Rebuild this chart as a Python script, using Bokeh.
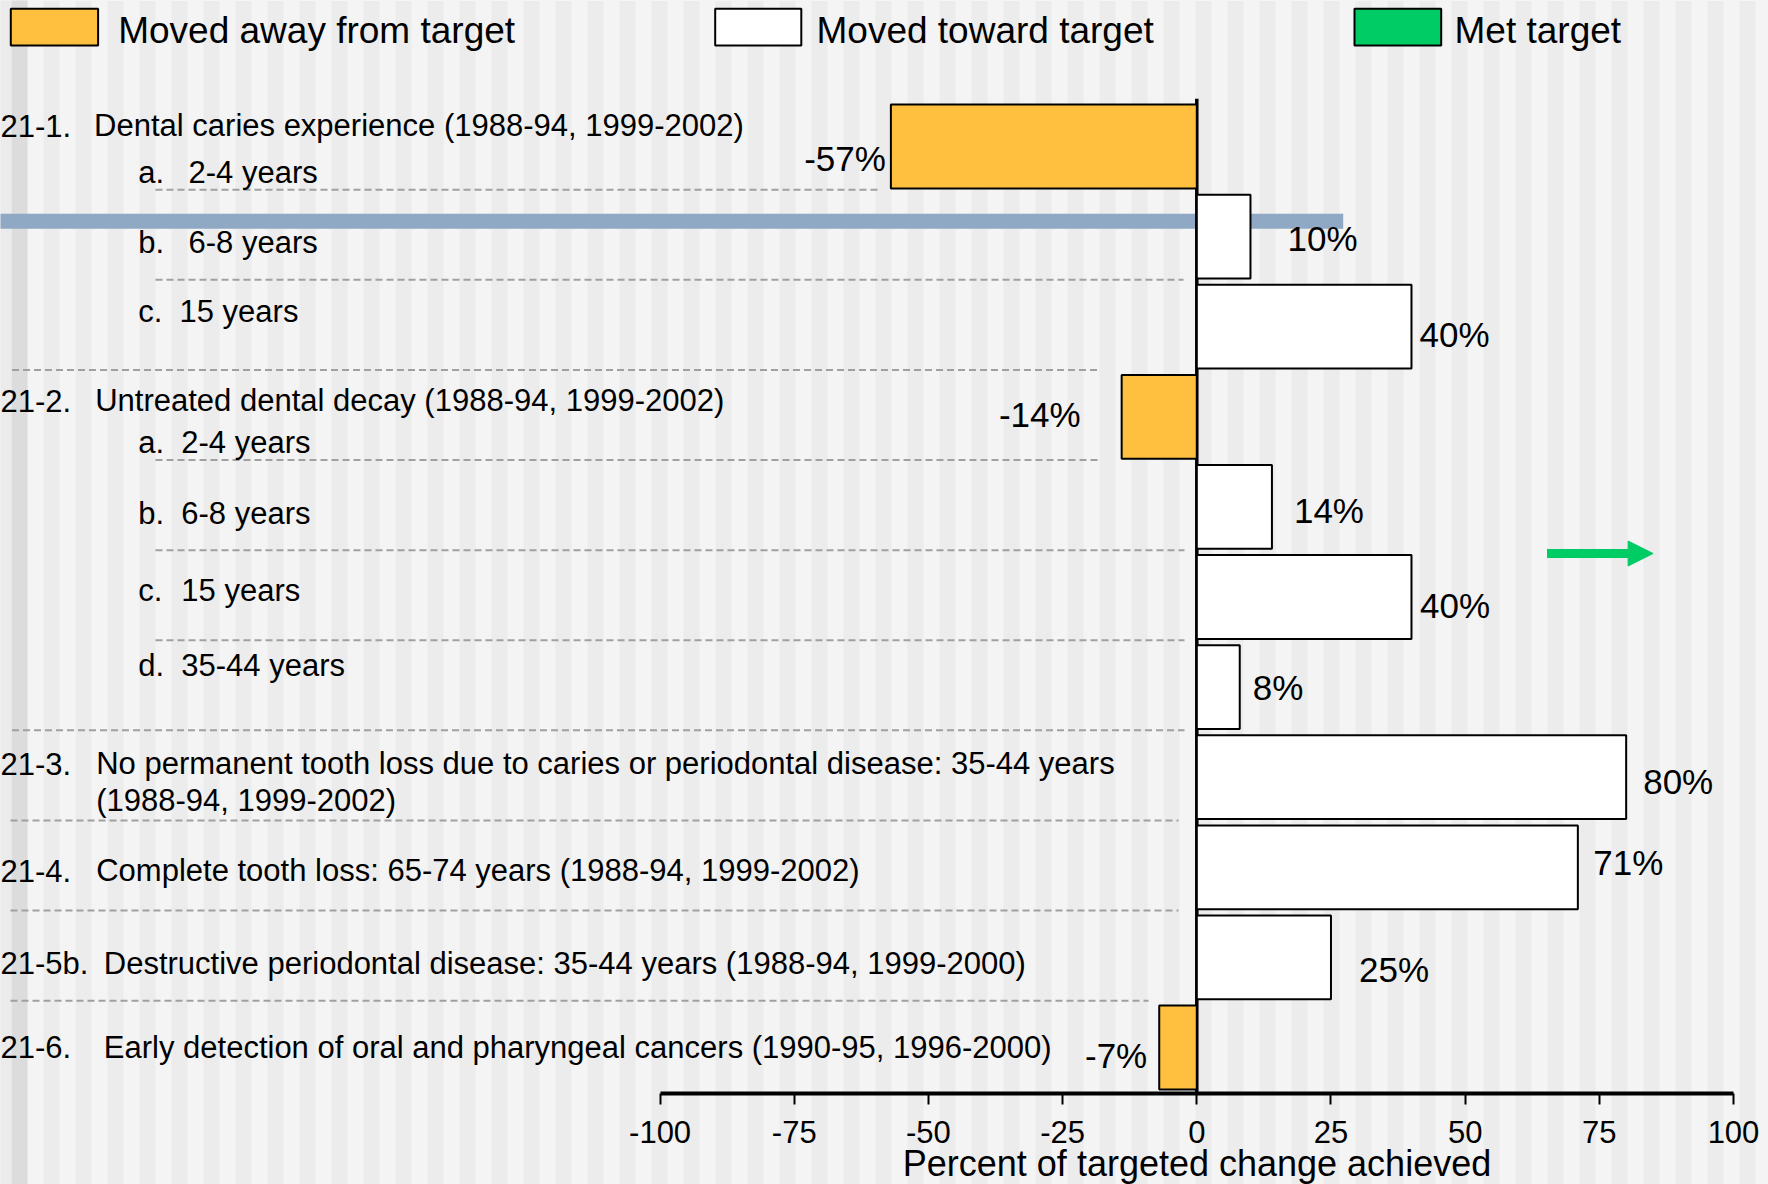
import numpy as np
from bokeh.plotting import figure
from bokeh.models import Range1d, FixedTicker, Arrow, NormalHead, ColumnDataSource
from bokeh.core.properties import value
from bokeh.embed import file_html
from bokeh.resources import INLINE

# ---------------- data ----------------
objective_ids = ["21-1.", "21-2.", "21-3.", "21-4.", "21-5b.", "21-6."]
objective_titles = [
    "Dental caries experience (1988-94, 1999-2002)",
    "Untreated dental decay (1988-94, 1999-2002)",
    "No permanent tooth loss due to caries or periodontal disease: 35-44 years",
    "Complete tooth loss:  65-74 years (1988-94, 1999-2002)",
    "Destructive periodontal disease: 35-44 years (1988-94, 1999-2000)",
    "Early detection of oral and pharyngeal cancers  (1990-95, 1996-2000)",
]
objective_title_line2 = ["", "", "(1988-94, 1999-2002)", "", "", ""]
sub_letters = ["a.", "b.", "c.", "a.", "b.", "c.", "d."]
sub_groups = ["2-4 years", "6-8 years", "15 years", "2-4 years", "6-8 years", "15 years", "35-44 years"]
bar_values = [-57, 10, 40, -14, 14, 40, 8, 80, 71, 25, -7]
bar_labels = ["-57%", "10%", "40%", "-14%", "14%", "40%", "8%", "80%", "71%", "25%", "-7%"]
legend_labels = ["Moved away from target", "Moved toward target", "Met target"]
x_ticks = [-100, -75, -50, -25, 0, 25, 50, 75, 100]
x_tick_labels = ["-100", "-75", "-50", "-25", "0", "25", "50", "75", "100"]
x_title = "Percent of targeted change achieved"

# ---------------- layout helpers ----------------
W, H = 1768, 1184
X0_PX = 1196.3      # pixel of x = 0
PPU = 5.367         # pixels per percent
ROW0_PX = 146.0     # pixel centre of first row
ROW_PX = 90.1       # row pitch

def xd(px):
    return (px - X0_PX) / PPU

def yd(py):
    return (py - ROW0_PX) / ROW_PX

ORANGE = "#FFC040"
GREEN = "#00CC66"
FONT = "Liberation Sans"

p = figure(width=W, height=H, x_range=Range1d(xd(0), xd(W)), y_range=Range1d(yd(H), yd(0)),
           output_backend="svg", toolbar_location=None, min_border=0,
           y_axis_location=None, background_fill_color="#ececec",
           border_fill_color="#ececec", outline_line_color=None)
p.xgrid.visible = False
p.ygrid.visible = False

# background stripes
lights = [27 + 32 * k for k in range(60) if 27 + 32 * k < W]
p.quad(left=[xd(a) for a in lights], right=[xd(a + 16) for a in lights],
       bottom=yd(H + 5), top=yd(-5), fill_color="#f4f4f4", line_color=None)
p.quad(left=[xd(11)], right=[xd(27)], bottom=yd(H + 5), top=yd(-5),
       fill_color="#dcdcdc", line_color=None)
p.quad(left=[xd(-5)], right=[xd(11)], bottom=yd(H + 5), top=yd(-5),
       fill_color="#ebebeb", line_color=None)

# highlight band
p.quad(left=[xd(-10)], right=[xd(1342.7)], top=[yd(213.3)], bottom=[yd(228.3)],
       fill_color="#8fa8c3", line_color=None)

# dashed separators (row boundaries)
sep_start_px = [155, 155, 11.5, 155, 155, 155, 11.5, 10, 10, 10]
sep_end_px = [880, 1183, 1099, 1099, 1184, 1184, 1184, 1178, 1178, 1148]
rows = np.arange(len(bar_values))
p.multi_line(xs=[[xd(a), xd(b)] for a, b in zip(sep_start_px, sep_end_px)],
             ys=[[r + 0.48, r + 0.48] for r in rows[:-1]],
             line_color="#a0a0a0", line_width=2, line_dash="7 4")

# zero line
axis_y = yd(1093.3)
p.segment(x0=[0], y0=[yd(98.3)], x1=[0], y1=[axis_y], line_color="black", line_width=3.5)

# bars
vals = np.array(bar_values, dtype=float)
colors = [ORANGE if v < 0 else "white" for v in bar_values]
bars = ColumnDataSource(dict(left=np.minimum(vals, 0), right=np.maximum(vals, 0),
                             top=rows - 0.465, bottom=rows + 0.465, color=colors))
p.quad(left="left", right="right", top="top", bottom="bottom", fill_color="color",
       line_color="black", line_width=2, source=bars)

# value labels
lab_dx = [-5, 37, 8, -41, 22, 8.6, 13, 17, 15.5, 28, -12]
lab_dy = [11.5, 2, 7.6, -2, 3.6, 8.5, 0, 4.3, -5.3, 11.7, 8]
labs = ColumnDataSource(dict(x=vals, y=rows, text=bar_labels, dx=lab_dx, dy=lab_dy,
                             align=["right" if v < 0 else "left" for v in bar_values]))
p.text(x="x", y="y", text="text", x_offset="dx", y_offset="dy", text_align="align",
       text_baseline="middle", text_font=value(FONT), text_font_size="35px",
       text_color="black", source=labs)

# category labels
CAT_SIZE = "31px"
obj_y_px = [125, 400, 763, 870, 963, 1046.7]
obj_x_px = [93.6, 94.7, 95.7, 95.7, 103.3, 103.3]
p.text(x=[xd(0)] * len(objective_ids), y=[yd(v) for v in obj_y_px], text=objective_ids,
       text_baseline="middle", text_font=value(FONT), text_font_size=CAT_SIZE, text_color="black")
p.text(x=[xd(v) for v in obj_x_px], y=[yd(v) for v in obj_y_px], text=objective_titles,
       text_baseline="middle", text_font=value(FONT), text_font_size=CAT_SIZE, text_color="black")
p.text(x=[xd(v) for v in obj_x_px], y=[yd(v + 37) for v in obj_y_px], text=objective_title_line2,
       text_baseline="middle", text_font=value(FONT), text_font_size=CAT_SIZE, text_color="black")
sub_y_px = [172, 242, 311, 441.7, 513, 590, 665]
sub_x_px = [188, 188, 179, 180.8, 180.8, 180.8, 180.8]
p.text(x=[xd(137.8)] * len(sub_letters), y=[yd(v) for v in sub_y_px], text=sub_letters,
       text_baseline="middle", text_font=value(FONT), text_font_size=CAT_SIZE, text_color="black")
p.text(x=[xd(v) for v in sub_x_px], y=[yd(v) for v in sub_y_px], text=sub_groups,
       text_baseline="middle", text_font=value(FONT), text_font_size=CAT_SIZE, text_color="black")

# arrow
p.add_layout(Arrow(x_start=xd(1546.5), y_start=yd(553), x_end=xd(1652.6), y_end=yd(553),
                   line_color=GREEN, line_width=9,
                   end=NormalHead(size=25, fill_color=GREEN, line_color=GREEN, line_width=1)))

# legend (manual)
box_l = [10.3, 714.7, 1354]
box_r = [97.6, 800.8, 1440.7]
p.quad(left=[xd(a) for a in box_l], right=[xd(b) for b in box_r], top=[yd(8.3)] * 3,
       bottom=[yd(45)] * 3, fill_color=[ORANGE, "white", GREEN], line_color="black", line_width=2)
p.text(x=[xd(v) for v in [117.7, 816, 1454]], y=[yd(30)] * 3, text=legend_labels,
       text_baseline="middle", text_font=value(FONT), text_font_size="37px", text_color="black")

# x axis
ax = p.xaxis[0]
ax.fixed_location = axis_y
ax.ticker = FixedTicker(ticks=x_ticks)
ax.bounds = (-100, 100)
ax.major_label_overrides = {t: s for t, s in zip(x_ticks, x_tick_labels)}
ax.axis_line_width = 4
ax.axis_line_color = "black"
ax.major_tick_line_width = 2
ax.major_tick_out = 11
ax.major_tick_in = 0
ax.minor_tick_out = 0
ax.minor_tick_in = 0
ax.major_label_standoff = 16
ax.major_label_text_font = FONT
ax.major_label_text_font_size = "31px"
ax.major_label_text_color = "black"
ax.axis_label = x_title
ax.axis_label_text_font = FONT
ax.axis_label_text_font_size = "36px"
ax.axis_label_text_font_style = "normal"
ax.axis_label_text_color = "black"
ax.axis_label_standoff = -3

open("out.html", "w").write(file_html(p, INLINE))
